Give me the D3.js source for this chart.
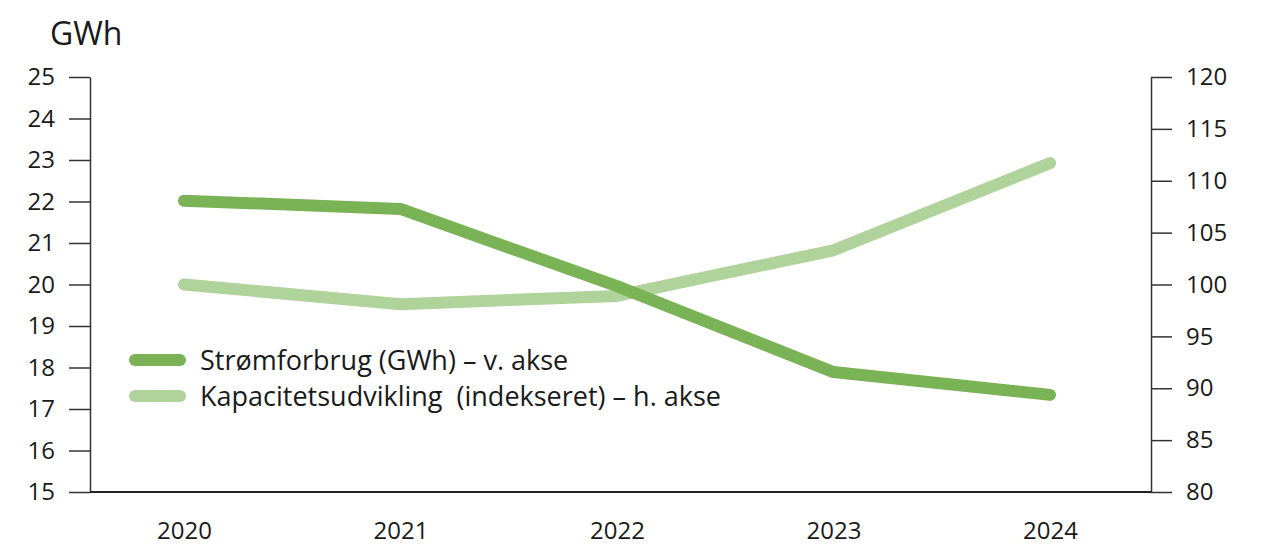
<!DOCTYPE html>
<html><head><meta charset="utf-8">
<script src="https://cdn.jsdelivr.net/npm/d3@7"></script>
<style>
body{margin:0;background:#fff;}
text{font-family:"Open Sans","Noto Sans",sans-serif;fill:#1a1a1a;}
</style></head>
<body><svg id="c" width="1275" height="548"></svg>
<script>
const years = ["2020","2021","2022","2023","2024"];
const stroem = [22.02, 21.82, 19.96, 17.89, 17.34];
const kapacitet = [100.0, 98.1, 98.9, 103.3, 111.7];
const leftTicks = [15,16,17,18,19,20,21,22,23,24,25];
const rightTicks = [80,85,90,95,100,105,110,115,120];
const seriesNames = ["Strømforbrug (GWh) – v. akse","Kapacitetsudvikling  (indekseret) – h. akse"];
const colors = ["#7ab356","#b0d39b"];

const svg = d3.select("#c");
const L = 90, R = 1151, T = 77, B = 492;
const x = d3.scalePoint().domain(years).range([184, 1050]);
const yL = d3.scaleLinear().domain([15,25]).range([B,T]);
const yR = d3.scaleLinear().domain([80,120]).range([B,T]);

const axL = svg.append("g").attr("transform",`translate(${L},0)`)
  .call(d3.axisLeft(yL).tickValues(leftTicks).tickSize(21).tickPadding(14).tickSizeOuter(0));
const axR = svg.append("g").attr("transform",`translate(${R},0)`)
  .call(d3.axisRight(yR).tickValues(rightTicks).tickSize(21).tickPadding(14).tickSizeOuter(0));
[axL,axR].forEach(a=>{
  a.select(".domain").attr("stroke","#333").attr("stroke-width",1.5);
  a.selectAll(".tick line").attr("stroke","#333").attr("stroke-width",1.5);
  a.selectAll(".tick text").style("font-size","24px").attr("fill","#1a1a1a");
});
// bottom axis
const axB = svg.append("g").attr("transform",`translate(0,${B})`)
  .call(d3.axisBottom(x).tickSize(0).tickPadding(30));
axB.select(".domain").attr("d",`M${L},0H${R}`).attr("stroke","#222").attr("stroke-width",2);
axB.selectAll(".tick text").style("font-size","24px").attr("fill","#1a1a1a");

svg.append("text").attr("x",50).attr("y",45).style("font-size","32px").text("GWh");

const lineL = d3.line().x((d,i)=>x(years[i])).y(d=>yL(d));
const lineR = d3.line().x((d,i)=>x(years[i])).y(d=>yR(d));
svg.append("path").datum(kapacitet).attr("d",lineR).attr("fill","none")
  .attr("stroke",colors[1]).attr("stroke-width",12).attr("stroke-linecap","round").attr("stroke-linejoin","round");
svg.append("path").datum(stroem).attr("d",lineL).attr("fill","none")
  .attr("stroke",colors[0]).attr("stroke-width",12).attr("stroke-linecap","round").attr("stroke-linejoin","round");

// legend
const lg = svg.append("g");
seriesNames.forEach((n,i)=>{
  const yy = 360 + i*36;
  lg.append("line").attr("x1",135).attr("x2",180).attr("y1",yy).attr("y2",yy)
    .attr("stroke",colors[i]).attr("stroke-width",12).attr("stroke-linecap","round");
  lg.append("text").attr("x",200).attr("y",yy+10).style("font-size","27px").style("white-space","pre").text(n);
});
</script></body></html>
